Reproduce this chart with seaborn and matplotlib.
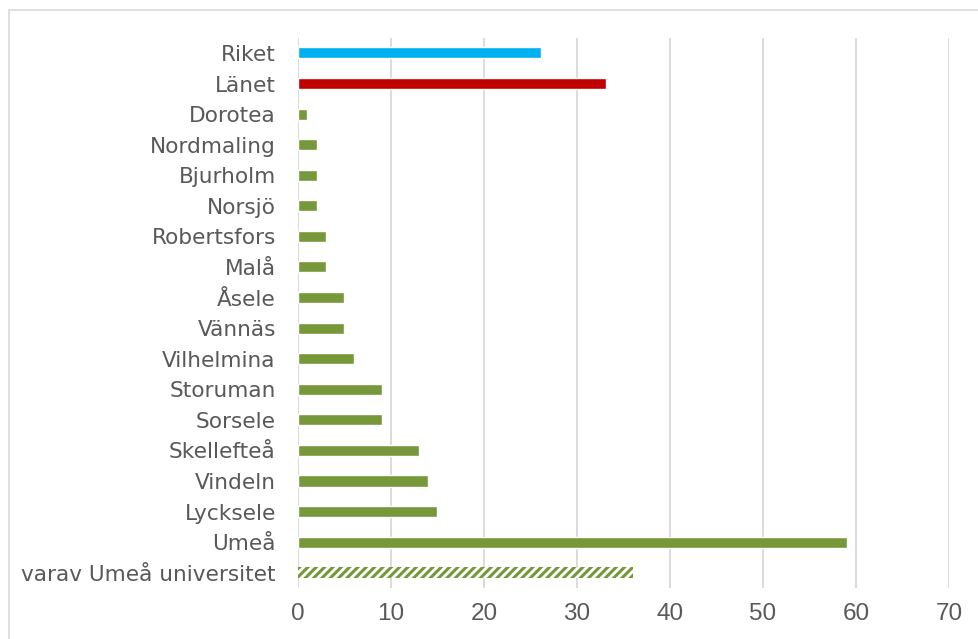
import matplotlib
matplotlib.use("Agg")
import matplotlib.pyplot as plt
import seaborn as sns
import pandas as pd
from matplotlib.patches import Rectangle

categories = ["Riket", "Länet", "Dorotea", "Nordmaling", "Bjurholm", "Norsjö",
              "Robertsfors", "Malå", "Åsele", "Vännäs", "Vilhelmina", "Storuman",
              "Sorsele", "Skellefteå", "Vindeln", "Lycksele", "Umeå",
              "varav Umeå universitet"]
values = [26.1, 33.1, 1, 2, 2, 2, 3, 3, 5, 5, 6, 9, 9, 13, 14, 15, 59, 36]
xticks = [0, 10, 20, 30, 40, 50, 60, 70]

BLUE = "#00B0F0"
RED = "#C00000"
GREEN = "#77983A"
colors = [BLUE, RED] + [GREEN] * 15 + ["white"]

sns.set_theme(style="white")
plt.rcParams["font.family"] = ["DejaVu Sans"]
plt.rcParams["hatch.linewidth"] = 2.2
plt.rcParams["hatch.color"] = GREEN

df = pd.DataFrame({"cat": categories, "val": values})

fig = plt.figure(figsize=(9.79, 6.39), dpi=100)
ax = fig.add_axes([298/979, 1-588/639, (949-298)/979, (588-37.7)/639])

sns.barplot(data=df, x="val", y="cat", hue="cat", palette=colors, legend=False,
            width=0.36, ax=ax, saturation=1, zorder=3)

last = ax.patches[-1]
last.set_hatch("////")
last.set_edgecolor(GREEN)
last.set_linewidth(0)

ax.set_xlim(0, 70)
ax.set_xticks(xticks)
ax.set_xlabel("")
ax.set_ylabel("")
ax.grid(axis="x", color="#D9D9D9", linewidth=1.3, zorder=0)
ax.grid(axis="y", visible=False)
for s in ax.spines.values():
    s.set_visible(False)
ax.tick_params(axis="x", length=0, pad=11, labelsize=17.5, labelcolor="#595959")
ax.tick_params(axis="y", length=0, pad=16, labelsize=15.6, labelcolor="#595959")
for t in ax.get_xticklabels():
    t.set_fontfamily(["Liberation Sans", "DejaVu Sans"])

fig.patches.append(Rectangle((9/979, -0.05), 1.1, (639-10)/639 + 0.05,
                             transform=fig.transFigure, fill=False,
                             edgecolor="#D9D9D9", linewidth=1.2, zorder=0))

fig.savefig("out.png", dpi=100)
